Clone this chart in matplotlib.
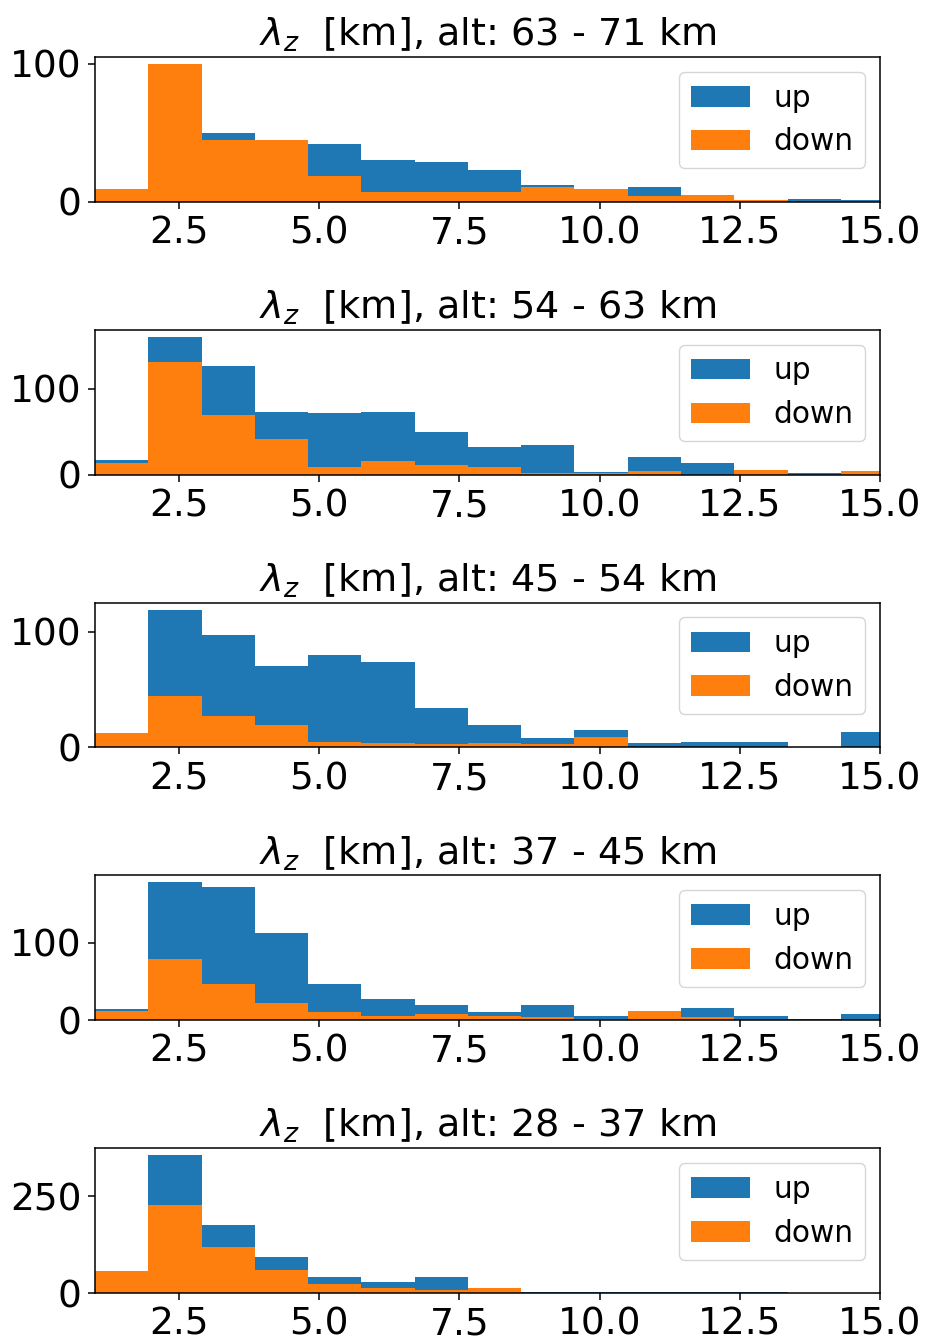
import numpy as np
import matplotlib
matplotlib.use("Agg")
import matplotlib.pyplot as plt

# shared bin edges of lambda_z [km]
bin_edges = [1.0, 1.95, 2.9, 3.85, 4.8, 5.75, 6.7, 7.65, 8.6, 9.55,
             10.5, 11.45, 12.4, 13.35, 14.3, 15.25]

alt_ranges = ["63 - 71", "54 - 63", "45 - 54", "37 - 45", "28 - 37"]

# counts per bin (up drawn first, down on top)
up_63_71 = [8, 90, 50, 40, 42, 30, 29, 23, 12, 8, 11, 4, 1, 2, 1]
down_63_71 = [9, 100, 45, 45, 19, 7, 7, 7, 11, 9, 4, 5, 1, 0, 0]

up_54_63 = [17, 161, 127, 73, 72, 73, 50, 32, 34, 3, 20, 14, 4, 2, 3]
down_54_63 = [14, 132, 70, 41, 9, 16, 11, 9, 2, 2, 4, 0, 5, 0, 4]

up_45_54 = [10, 119, 97, 70, 80, 74, 34, 19, 8, 15, 4, 5, 5, 0, 13]
down_45_54 = [12, 44, 27, 19, 5, 4, 3, 4, 3, 9, 0, 0, 0, 0, 0]

up_37_45 = [14, 178, 172, 113, 47, 28, 20, 10, 20, 6, 10, 16, 6, 2, 8]
down_37_45 = [12, 79, 47, 22, 10, 6, 8, 6, 4, 2, 12, 4, 0, 0, 0]

up_28_37 = [50, 357, 176, 92, 41, 28, 41, 10, 3, 3, 3, 3, 3, 0, 0]
down_28_37 = [56, 227, 119, 60, 24, 12, 9, 12, 0, 0, 0, 0, 0, 0, 0]

up_counts = [up_63_71, up_54_63, up_45_54, up_37_45, up_28_37]
down_counts = [down_63_71, down_54_63, down_45_54, down_37_45, down_28_37]
y_ticks = [[0, 100], [0, 100], [0, 100], [0, 100], [0, 250]]

centers = [(a + b) / 2 for a, b in zip(bin_edges[:-1], bin_edges[1:])]

fig, axes = plt.subplots(5, 1, figsize=(9.25, 13.42), dpi=100)
fig.subplots_adjust(left=0.1027, right=0.9514, top=0.9575, bottom=0.0365,
                    hspace=0.885)

for ax, alt, up, down, yt in zip(axes, alt_ranges, up_counts, down_counts, y_ticks):
    ax.hist(centers, bins=bin_edges, weights=up, color="#1f77b4", label="up")
    ax.hist(centers, bins=bin_edges, weights=down, color="#ff7f0e", label="down")
    ax.set_xlim(1, 15)
    ax.set_xticks([2.5, 5.0, 7.5, 10.0, 12.5, 15.0])
    ax.set_yticks(yt)
    ax.tick_params(labelsize=27, length=4.9, width=1.1, pad=4.9)
    for s in ax.spines.values():
        s.set_linewidth(1.1)
    ax.set_title(r"$\lambda_z$  [km], alt: " + alt + " km", fontsize=27.5, pad=8)
    ax.legend(loc="upper right", fontsize=21.3)

plt.savefig("out.png", dpi=100)
